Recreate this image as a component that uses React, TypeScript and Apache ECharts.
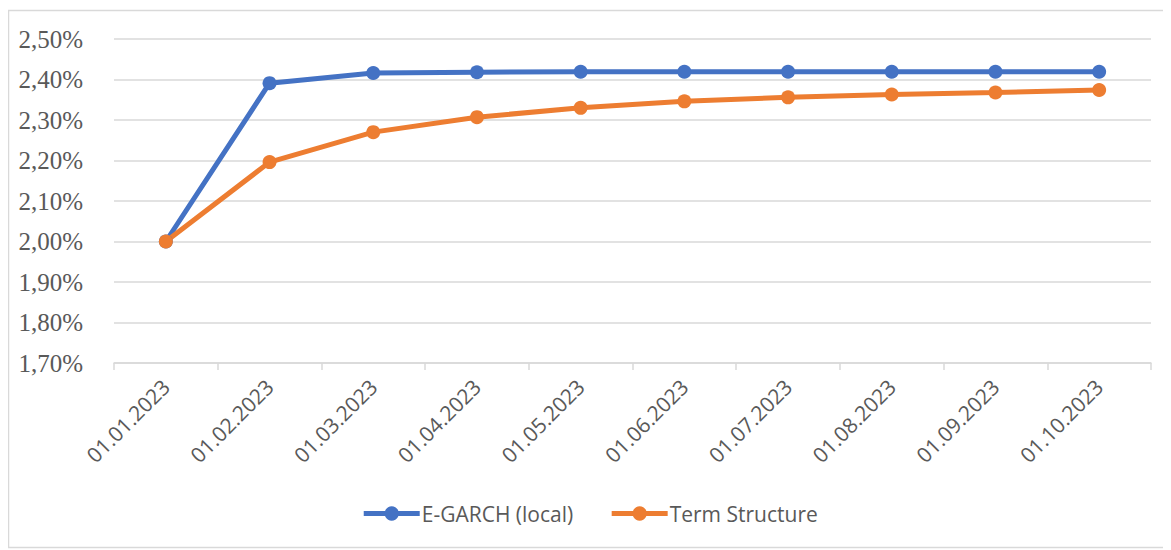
import React, { useEffect, useRef } from "react";
import * as echarts from "echarts";

const categories = [
  "01.01.2023", "01.02.2023", "01.03.2023", "01.04.2023", "01.05.2023",
  "01.06.2023", "01.07.2023", "01.08.2023", "01.09.2023", "01.10.2023",
];
// values in percent
const egarch = [2.0, 2.391, 2.416, 2.418, 2.419, 2.419, 2.419, 2.419, 2.419, 2.419];
const termStructure = [2.0, 2.196, 2.27, 2.307, 2.33, 2.346, 2.356, 2.363, 2.368, 2.374];
const yMin = 1.7;
const yMax = 2.5;
const yStep = 0.1;

export default function App() {
  const ref = useRef<HTMLDivElement>(null);
  useEffect(() => {
    if (!ref.current) return;
    const chart = echarts.init(ref.current, undefined, { renderer: "svg" });
    chart.setOption({
      animation: false,
      backgroundColor: "#ffffff",
      graphic: [
        {
          type: "rect",
          shape: { x: 0.5, y: 2.5, width: 1175, height: 537 },
          style: { fill: "none", stroke: "#d9d9d9", lineWidth: 1.5 },
          silent: true,
          z: -10,
        },
      ],
      grid: { left: 106, right: 20, top: 31, bottom: 187, containLabel: false },
      xAxis: {
        type: "category",
        data: categories,
        boundaryGap: true,
        axisLine: { show: true, lineStyle: { color: "#d9d9d9", width: 1.5 } },
        axisTick: { show: true, length: 7, lineStyle: { color: "#d9d9d9", width: 1.5 } },
        axisLabel: {
          rotate: 45,
          margin: 20,
          color: "#595959",
          fontFamily: "Open Sans",
          fontSize: 21,
        },
        splitLine: { show: false },
      },
      yAxis: {
        type: "value",
        min: yMin,
        max: yMax,
        interval: yStep,
        axisLine: { show: false },
        axisTick: { show: false },
        axisLabel: {
          margin: 31,
          color: "#595959",
          fontFamily: "Liberation Serif",
          fontSize: 25,
          formatter: (v: number) => v.toFixed(2).replace(".", ",") + "%",
        },
        splitLine: { show: true, lineStyle: { color: "#d9d9d9", width: 1.5 } },
      },
      legend: {
        bottom: 21,
        left: "center",
        itemWidth: 56,
        itemHeight: 18,
        itemGap: 36,
        lineStyle: { width: 5 },
        textStyle: { color: "#595959", fontFamily: "Open Sans", fontSize: 21, padding: [0, 0, 0, -3] },
        data: ["E-GARCH (local)", "Term Structure"],
      },
      series: [
        {
          name: "E-GARCH (local)",
          type: "line",
          data: egarch,
          symbol: "circle",
          symbolSize: 14,
          lineStyle: { color: "#4472C4", width: 5 },
          itemStyle: { color: "#4472C4" },
        },
        {
          name: "Term Structure",
          type: "line",
          data: termStructure,
          symbol: "circle",
          symbolSize: 14,
          lineStyle: { color: "#ED7D31", width: 5 },
          itemStyle: { color: "#ED7D31" },
        },
      ],
    });
    return () => chart.dispose();
  }, []);
  return <div ref={ref} style={{ width: 1163, height: 542 }} />;
}
